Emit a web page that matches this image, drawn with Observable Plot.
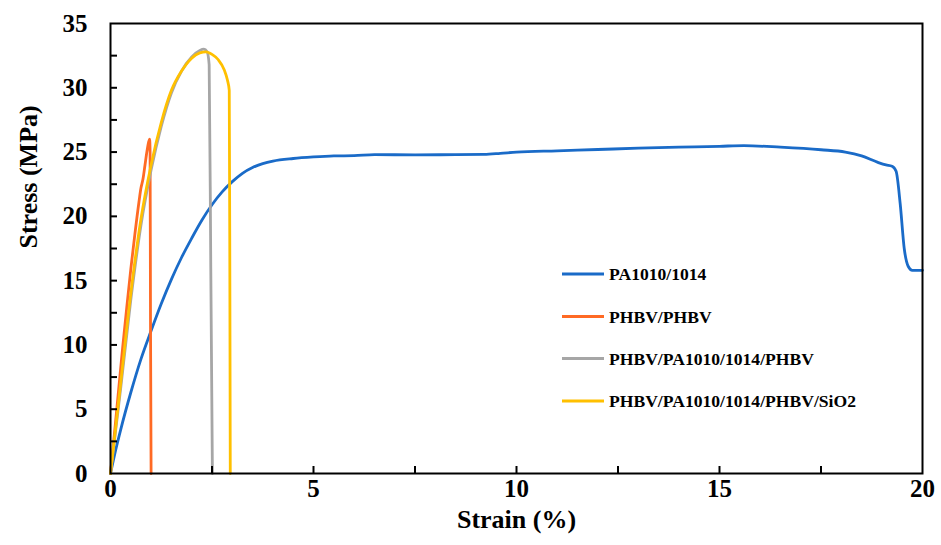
<!DOCTYPE html>
<html>
<head>
<meta charset="utf-8">
<script src="https://cdn.jsdelivr.net/npm/d3@7"></script>
<script src="https://cdn.jsdelivr.net/npm/@observablehq/plot@0.6"></script>
<style>
  html, body { margin: 0; padding: 0; background: #fff; }
  #chart { width: 941px; height: 545px; }
</style>
</head>
<body>
<div id="chart"></div>
<script>
// ---- Data ----
const seriesNames = ["PA1010/1014", "PHBV/PHBV", "PHBV/PA1010/1014/PHBV", "PHBV/PA1010/1014/PHBV/SiO2"];
const seriesColors = ["#1A6BC8", "#FF6A24", "#A6A6A6", "#FFC000"];

const paStrain = [0, 0.125, 0.25, 0.5, 0.75, 1.0, 1.25, 1.5, 1.75, 2.0, 2.25, 2.5, 2.75, 3.0, 3.25, 3.5, 3.75, 4.0, 4.5, 5.0, 5.5, 6.0, 6.5, 7.5, 8.5, 9.2, 9.6, 10.0, 11.0, 12.0, 13.0, 14.0, 15.0, 15.6, 16.5, 17.5, 18.1, 18.5, 18.9, 19.1, 19.25, 19.35, 19.45, 19.55, 19.65, 19.75, 20.0];
const paStress = [0, 1.8, 3.4, 6.3, 8.9, 11.1, 13.2, 15.1, 16.8, 18.3, 19.7, 20.9, 21.9, 22.7, 23.35, 23.8, 24.1, 24.3, 24.5, 24.62, 24.7, 24.72, 24.8, 24.78, 24.8, 24.82, 24.9, 25.0, 25.1, 25.2, 25.3, 25.38, 25.45, 25.5, 25.38, 25.18, 25.0, 24.7, 24.2, 24.0, 23.9, 23.5, 21.0, 17.5, 16.1, 15.8, 15.8];

const phbvStrain = [0, 0.1, 0.2, 0.3, 0.4, 0.5, 0.6, 0.7, 0.75, 0.8, 0.85, 0.9, 0.94, 0.965, 0.975, 0.985, 1.0];
const phbvStress = [0, 3.2, 6.5, 9.8, 12.9, 15.9, 18.6, 21.1, 22.2, 22.9, 24.0, 25.1, 25.8, 26.0, 25.0, 12.0, 0];

const triStrain = [0, 0.25, 0.5, 0.75, 1.0, 1.25, 1.5, 1.75, 2.0, 2.2, 2.3, 2.38, 2.43, 2.47, 2.51];
const triStress = [0, 6.6, 13.5, 19.3, 23.6, 27.0, 29.6, 31.3, 32.4, 32.9, 33.0, 32.8, 31.8, 16.0, 0];

const sioStrain = [0, 0.25, 0.5, 0.75, 1.0, 1.25, 1.5, 1.75, 2.0, 2.2, 2.35, 2.5, 2.65, 2.8, 2.88, 2.925, 2.94, 2.95];
const sioStress = [0, 7.0, 14.0, 19.8, 24.0, 27.3, 29.8, 31.3, 32.3, 32.72, 32.8, 32.6, 32.2, 31.4, 30.6, 29.8, 15.0, 0];

const xTickLabels = [0, 5, 10, 15, 20];
const yTickLabels = [0, 5, 10, 15, 20, 25, 30, 35];
const xMinorTicks = [2.5, 5, 7.5, 10, 12.5, 15, 17.5];
const yMinorTicks = [2.5, 5, 7.5, 10, 12.5, 15, 17.5, 20, 22.5, 25, 27.5, 30, 32.5];

// ---- Build tables ----
function toRows(xs, ys, name) { return xs.map((x, i) => ({strain: x, stress: ys[i], series: name})); }
const tables = [
  toRows(paStrain, paStress, seriesNames[0]),
  toRows(phbvStrain, phbvStress, seriesNames[1]),
  toRows(triStrain, triStress, seriesNames[2]),
  toRows(sioStrain, sioStress, seriesNames[3])
];

const W = 941, H = 545, mL = 110, mR = 19, mT = 23, mB = 72;
const plotW = W - mL - mR, plotH = H - mT - mB;
const serif = "'Liberation Serif', 'Times New Roman', serif";

const chart = Plot.plot({
  width: W, height: H,
  marginLeft: mL, marginRight: mR, marginTop: mT, marginBottom: mB,
  style: {fontFamily: serif, fontWeight: "bold", background: "white", color: "black"},
  x: {domain: [0, 20]},
  y: {domain: [0, 35]},
  marks: [
    ...tables.map((rows, i) => Plot.line(rows, {
      x: "strain", y: "stress", stroke: seriesColors[i], strokeWidth: 2.8, curve: "monotone-x"
    })),
    Plot.tickY(yMinorTicks, {y: d => d, insetRight: plotW - 7, stroke: "black", strokeWidth: 2}),
    Plot.tickX(xMinorTicks, {x: d => d, insetTop: plotH - 7, stroke: "black", strokeWidth: 2}),
    Plot.frame({stroke: "black", strokeWidth: 2}),
    Plot.axisX(xTickLabels, {tickSize: 0, tickPadding: 6, fontSize: 25, fontWeight: "bold", label: null}),
    Plot.axisY(yTickLabels, {tickSize: 0, tickPadding: 23, fontSize: 25, fontWeight: "bold", label: null}),
    Plot.text(["Strain (%)"], {frameAnchor: "bottom", dy: 54, fontSize: 26, fontWeight: "bold", fill: "black"}),
    Plot.text(["Stress (MPa)"], {frameAnchor: "left", dx: -82, rotate: -90, fontSize: 26, fontWeight: "bold", fill: "black"})
  ]
});

document.getElementById("chart").appendChild(chart);

// ---- Legend (inside the plot area) ----
const svg = d3.select(chart);
const legendY = [274, 316.5, 358.5, 401];
const lg = svg.append("g").attr("class", "legend").attr("text-anchor", "start");
seriesNames.forEach((name, i) => {
  lg.append("line")
    .attr("x1", 562).attr("x2", 604)
    .attr("y1", legendY[i]).attr("y2", legendY[i])
    .attr("stroke", seriesColors[i]).attr("stroke-width", 3);
  lg.append("text")
    .attr("x", 609).attr("y", legendY[i])
    .attr("dy", "0.35em")
    .attr("text-anchor", "start")
    .attr("font-family", serif)
    .attr("font-weight", "bold")
    .attr("font-size", 17.6)
    .attr("fill", "black")
    .text(name);
});
</script>
</body>
</html>
